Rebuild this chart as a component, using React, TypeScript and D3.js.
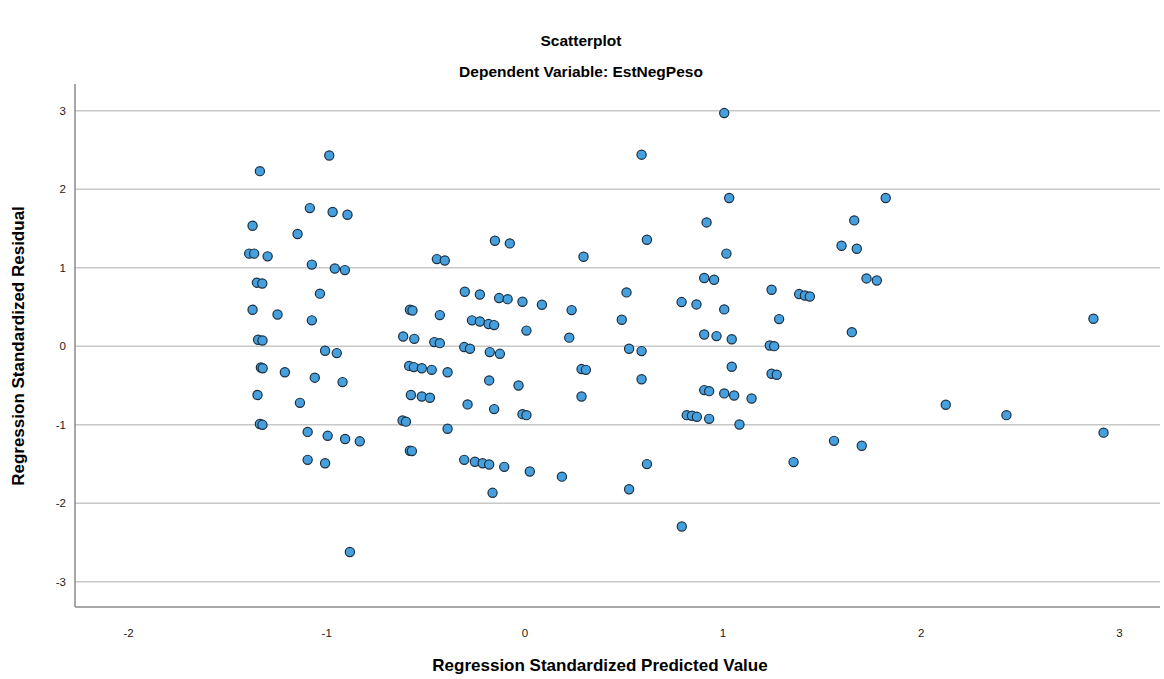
import React from "react";
import * as d3 from "d3";

const predicted: number[] = [
  -0.987, -1.337, -1.085, -0.970, -0.895, -1.374, -1.147, -1.391, -1.366, -1.298,
  -1.075, -0.959, -0.908, -1.352, -1.325, -1.034, -1.374, -1.248, -1.075, -0.580,
  -0.567, -1.346, -1.324, -0.614, -0.558, -1.008, -0.949, -1.332, -1.323, -1.211,
  -1.06, -0.92, -0.584, -0.56, -0.52, -0.47, -1.349, -1.135, -0.575, -0.52,
  -0.479, -1.337, -1.324, -0.617, -0.60, -1.096, -0.995, -0.907, -0.833, -0.58,
  -0.57, -1.096, -1.008, -0.883,
  -0.151, -0.076, -0.444, -0.404, 0.296, -0.429, -0.303, -0.227, -0.13, -0.087,
  -0.012, 0.086, 0.236, -0.267, -0.227, -0.183, -0.155, 0.008, 0.224,
  -0.457, -0.429, -0.306, -0.277, -0.177, -0.126, -0.39, -0.18, -0.032, 0.286,
  0.308, -0.289, -0.155, -0.012, 0.008, 0.286, -0.39, -0.306, -0.252, -0.213,
  -0.18, -0.104, 0.025, 0.187, -0.163,
  1.006, 0.589, 1.031, 0.917, 0.616, 1.017, 0.905, 0.955, 0.513, 0.791,
  0.866, 1.006, 0.489,
  0.905, 0.967, 1.044, 0.526, 0.589, 1.044, 0.589, 0.905, 0.93, 1.006,
  1.056, 1.144, 0.817, 0.843, 0.868, 0.93, 1.083, 0.616, 0.526, 0.792,
  1.821, 1.662, 1.598, 1.675, 1.245, 1.384, 1.413, 1.438, 1.724, 1.776,
  1.283, 1.65,
  1.236, 1.258, 1.245, 1.271, 1.56, 1.70, 1.356,
  2.869, 2.124, 2.43, 2.92,
];

const residual: number[] = [
  2.43, 2.23, 1.76, 1.71, 1.675, 1.535, 1.43, 1.18, 1.18, 1.145,
  1.04, 0.99, 0.97, 0.81, 0.80, 0.67, 0.465, 0.405, 0.33, 0.465,
  0.456, 0.083, 0.074, 0.125, 0.095, -0.057, -0.087, -0.27, -0.28, -0.33,
  -0.40, -0.456, -0.25, -0.265, -0.28, -0.30, -0.62, -0.72, -0.62, -0.64,
  -0.656, -0.99, -1.0, -0.945, -0.96, -1.09, -1.14, -1.18, -1.21, -1.33,
  -1.335, -1.446, -1.49, -2.62,
  1.344, 1.31, 1.11, 1.093, 1.14, 0.397, 0.694, 0.66, 0.614, 0.60,
  0.567, 0.529, 0.461, 0.33, 0.316, 0.283, 0.27, 0.20, 0.11,
  0.053, 0.04, -0.01, -0.032, -0.074, -0.096, -0.33, -0.435, -0.50, -0.29,
  -0.30, -0.74, -0.80, -0.864, -0.877, -0.64, -1.05, -1.446, -1.47, -1.49,
  -1.505, -1.535, -1.595, -1.66, -1.866,
  2.97, 2.44, 1.888, 1.577, 1.357, 1.18, 0.87, 0.847, 0.686, 0.563,
  0.533, 0.47, 0.338,
  0.15, 0.13, 0.09, -0.032, -0.061, -0.26, -0.42, -0.558, -0.571, -0.60,
  -0.627, -0.665, -0.877, -0.885, -0.898, -0.924, -0.996, -1.50, -1.82, -2.295,
  1.888, 1.603, 1.28, 1.242, 0.72, 0.665, 0.647, 0.634, 0.864, 0.838,
  0.346, 0.18,
  0.01, 0.002, -0.35, -0.363, -1.204, -1.267, -1.475,
  0.35, -0.745, -0.877, -1.10,
];

const xTicks: number[] = [-2, -1, 0, 1, 2, 3];
const yTicks: number[] = [3, 2, 1, 0, -1, -2, -3];

const title = "Scatterplot";
const subtitle = "Dependent Variable: EstNegPeso";
const xTitle = "Regression Standardized Predicted Value";
const yTitle = "Regression Standardized Residual";

export default function App() {
  const W = 1164;
  const H = 679;
  const left = 75;
  const right = 1160;
  const top = 84;
  const bottom = 607;

  const x = d3.scaleLinear().domain([-2.27, 3.205]).range([left, right]);
  const y = d3.scaleLinear().domain([-3.32, 3.34]).range([bottom, top]);

  const font = "Arial, 'Liberation Sans', sans-serif";

  return (
    <svg
      width={W}
      height={H}
      style={{ position: "absolute", left: 0, top: 0, background: "#fff" }}
      fontFamily={font}
    >
      <rect x={0} y={0} width={W} height={H} fill="#fff" />
      <text x={581} y={46} textAnchor="middle" fontSize={15.5} fontWeight="bold" fill="#000">
        {title}
      </text>
      <text x={581} y={77} textAnchor="middle" fontSize={15.5} fontWeight="bold" fill="#000">
        {subtitle}
      </text>

      {yTicks.map((t) => (
        <line key={"g" + t} x1={left} x2={right} y1={y(t)} y2={y(t)} stroke="#c8c8c8" strokeWidth={1.5} />
      ))}

      <line x1={left} x2={left} y1={top} y2={bottom} stroke="#8a8a8a" strokeWidth={1.5} />
      <line x1={left} x2={right} y1={bottom} y2={bottom} stroke="#8a8a8a" strokeWidth={1.5} />

      {yTicks.map((t) => (
        <text key={"yl" + t} x={66} y={y(t) + 4} textAnchor="end" fontSize={11.5} fill="#1a1a1a">
          {t}
        </text>
      ))}
      {xTicks.map((t) => (
        <text key={"xl" + t} x={x(t)} y={637} textAnchor="middle" fontSize={11.5} fill="#1a1a1a">
          {t}
        </text>
      ))}

      {predicted.map((p, i) => (
        <circle
          key={"c" + i}
          cx={x(p)}
          cy={y(residual[i])}
          r={4.6}
          fill="#45a0dd"
          stroke="#1c2f42"
          strokeWidth={1.2}
        />
      ))}

      <text x={600} y={671} textAnchor="middle" fontSize={17} fontWeight="bold" fill="#000">
        {xTitle}
      </text>
      <text
        transform={`translate(24, ${346}) rotate(-90)`}
        textAnchor="middle"
        fontSize={17}
        fontWeight="bold"
        fill="#000"
      >
        {yTitle}
      </text>
    </svg>
  );
}
